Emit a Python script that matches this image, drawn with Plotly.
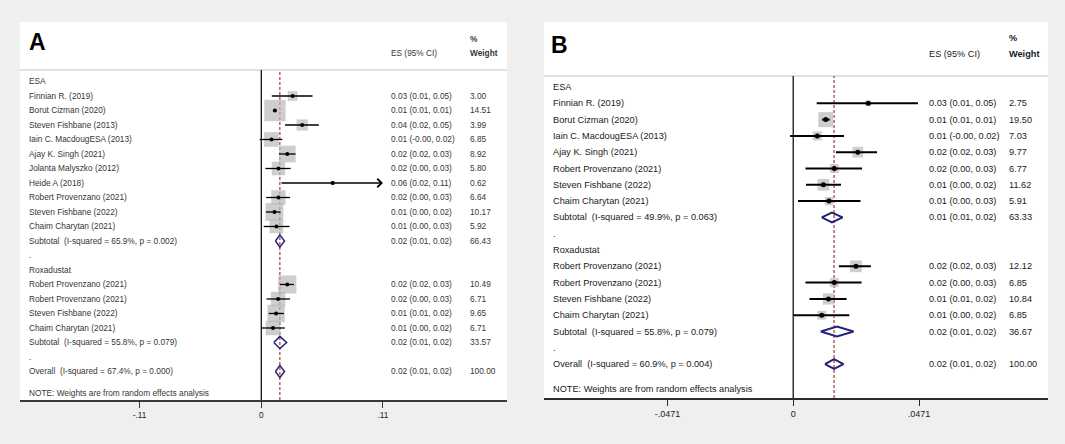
import plotly.graph_objects as go

W, H = 1065, 444

# ---------------- Panel A data ----------------
a_esa_names = ["Finnian R. (2019)", "Borut Cizman (2020)", "Steven Fishbane (2013)",
               "Iain C. MacdougESA (2013)", "Ajay K. Singh (2021)", "Jolanta Malyszko (2012)",
               "Heide A (2018)", "Robert Provenzano (2021)", "Steven Fishbane (2022)",
               "Chaim Charytan (2021)"]
a_esa_es = [0.0283, 0.0123, 0.0370, 0.0092, 0.0235, 0.0155, 0.0646, 0.0155, 0.0119, 0.0137]
a_esa_lo = [0.0095, 0.0105, 0.0215, -0.0015, 0.0160, 0.0037, 0.0183, 0.0045, 0.0043, 0.0022]
a_esa_hi = [0.0463, 0.0140, 0.0520, 0.0190, 0.0310, 0.0265, 0.1100, 0.0260, 0.0174, 0.0255]
a_esa_w = [3.00, 14.51, 3.99, 6.85, 8.92, 5.80, 0.62, 6.64, 10.17, 5.92]
a_esa_sub = (0.0168, 0.0128, 0.0210, 66.43, "Subtotal  (I-squared = 65.9%, p = 0.002)")

a_rox_names = ["Robert Provenzano (2021)", "Robert Provenzano (2021)",
               "Steven Fishbane (2022)", "Chaim Charytan (2021)"]
a_rox_es = [0.0235, 0.0152, 0.0134, 0.0106]
a_rox_lo = [0.0168, 0.0048, 0.0067, 0.0001]
a_rox_hi = [0.0295, 0.0259, 0.0205, 0.0213]
a_rox_w = [10.49, 6.71, 9.65, 6.71]
a_rox_sub = (0.0168, 0.0113, 0.0229, 33.57, "Subtotal  (I-squared = 55.8%, p = 0.079)")
a_overall = (0.0168, 0.0128, 0.0210, 100.00, "Overall  (I-squared = 67.4%, p = 0.000)")
a_ticks = [-0.11, 0, 0.11]
a_ticktext = ["-.11", "0", ".11"]

# ---------------- Panel B data ----------------
b_esa_names = ["Finnian R. (2019)", "Borut Cizman (2020)", "Iain C. MacdougESA (2013)",
               "Ajay K. Singh (2021)", "Robert Provenzano (2021)", "Steven Fishbane (2022)",
               "Chaim Charytan (2021)"]
b_esa_es = [0.0281, 0.0122, 0.0090, 0.0242, 0.0154, 0.0113, 0.0134]
b_esa_lo = [0.0088, 0.0108, -0.0012, 0.0160, 0.0046, 0.0048, 0.0018]
b_esa_hi = [0.0467, 0.0137, 0.0190, 0.0314, 0.0258, 0.0179, 0.0252]
b_esa_w = [2.75, 19.50, 7.03, 9.77, 6.77, 11.62, 5.91]
b_esa_sub = (0.0145, 0.0107, 0.0185, 63.33, "Subtotal  (I-squared = 49.9%, p = 0.063)")

b_rox_names = ["Robert Provenzano (2021)", "Robert Provenzano (2021)",
               "Steven Fishbane (2022)", "Chaim Charytan (2021)"]
b_rox_es = [0.0235, 0.0154, 0.0132, 0.0107]
b_rox_lo = [0.0171, 0.0046, 0.0061, 0.0001]
b_rox_hi = [0.0291, 0.0256, 0.0200, 0.0210]
b_rox_w = [12.12, 6.85, 10.84, 6.85]
b_rox_sub = (0.0164, 0.0103, 0.0226, 36.67, "Subtotal  (I-squared = 55.8%, p = 0.079)")
b_overall = (0.0153, 0.0119, 0.0188, 100.00, "Overall  (I-squared = 60.9%, p = 0.004)")
b_ticks = [-0.0471, 0, 0.0471]
b_ticktext = ["-.0471", "0", ".0471"]

group_names = ["ESA", "Roxadustat"]
note_text = "NOTE: Weights are from random effects analysis"

FONT = "Arial, 'Liberation Sans', sans-serif"

fig = go.Figure()
shapes = []
annotations = []


def px_x(p):
    return p / W


def px_y(p):
    return 1 - p / H


def panel(cfg):
    xa, ya = cfg["xa"], cfg["ya"]
    groups = cfg["groups"]
    fs, tcol = cfg["fs"], cfg["tcol"]
    rows_study, es_all, lo_all, hi_all, w_all = [], [], [], [], []
    text_rows = []
    diamonds = []
    r = 0
    for gi, (gname, names, es, lo, hi, w, sub) in enumerate(groups):
        text_rows.append((r, gname, "", ""))
        r += 1
        for n, e, l, h, ww in zip(names, es, lo, hi, w):
            rows_study.append(r)
            es_all.append(e); lo_all.append(l); hi_all.append(h); w_all.append(ww)
            text_rows.append((r, n, f"{e:.2f} ({l:.2f}, {h:.2f})", f"{ww:.2f}"))
            r += 1
        se, sl, sh, sw, slabel = sub
        diamonds.append((r, se, sl, sh))
        text_rows.append((r, slabel, f"{se:.2f} ({sl:.2f}, {sh:.2f})", f"{sw:.2f}"))
        r += 1
        text_rows.append((r, ".", "", ""))
        r += 1
    oe, ol, oh, ow, olabel = cfg["overall"]
    diamonds.append((r, oe, ol, oh))
    text_rows.append((r, olabel, f"{oe:.2f} ({ol:.2f}, {oh:.2f})", f"{ow:.2f}"))
    note_row = r + 1.5

    ylo, yhi = cfg["yrange"]
    # zero line and overall-effect dashed line (drawn first, beneath the markers)
    fig.add_trace(go.Scatter(x=[0, 0], y=[ylo, yhi], mode="lines", xaxis=xa, yaxis=ya,
                             line=dict(color="black", width=1.2), hoverinfo="skip",
                             showlegend=False, cliponaxis=False))
    fig.add_trace(go.Scatter(x=[oe, oe], y=[ylo, yhi], mode="lines", xaxis=xa, yaxis=ya,
                             line=dict(color="#a8383a", width=1.2, dash="3px,2px"),
                             hoverinfo="skip", showlegend=False, cliponaxis=False))

    xclip = max(cfg["ticks"])
    fig.add_trace(go.Scatter(
        x=es_all, y=rows_study, mode="markers", xaxis=xa, yaxis=ya,
        marker=dict(symbol="square", color="#b9b9b9",
                    size=[cfg["sq"] * (ww ** 0.5) for ww in w_all], line=dict(width=0)),
        hoverinfo="skip", showlegend=False))
    plus = [0 if h >= xclip else h - e for e, h in zip(es_all, hi_all)]
    minus = [e - l for e, l in zip(es_all, lo_all)]
    fig.add_trace(go.Scatter(
        x=es_all, y=rows_study, mode="markers", xaxis=xa, yaxis=ya,
        marker=dict(symbol="circle", color="black", size=cfg["dot"]),
        error_x=dict(type="data", symmetric=False, array=plus, arrayminus=minus,
                     thickness=cfg["ciw"], width=0, color="black"),
        hoverinfo="skip", showlegend=False))
    for e, h, rr in zip(es_all, hi_all, rows_study):
        if h >= xclip:
            annotations.append(dict(x=xclip, y=rr, ax=e, ay=rr, xref=xa, yref=ya,
                                    axref=xa, ayref=ya, text="", showarrow=True,
                                    arrowhead=4, arrowsize=1.3, arrowwidth=cfg["ciw"],
                                    arrowcolor="black", standoff=0))
    hh = cfg["dh"]
    for rr, e, l, h in diamonds:
        fig.add_trace(go.Scatter(
            x=[l, e, h, e, l], y=[rr, rr - hh, rr, rr + hh, rr], mode="lines",
            xaxis=xa, yaxis=ya, line=dict(color="#23237a", width=cfg["dw"]),
            hoverinfo="skip", showlegend=False))

    for rr, lab, est, wt in text_rows:
        annotations.append(dict(x=px_x(cfg["lab_x"]), y=rr, xref="paper", yref=ya,
                                text=lab, showarrow=False, xanchor="left", yanchor="middle",
                                font=dict(family=FONT, size=fs, color=tcol)))
        if est:
            annotations.append(dict(x=px_x(cfg["es_x"]), y=rr, xref="paper", yref=ya,
                                    text=est, showarrow=False, xanchor="left", yanchor="middle",
                                    font=dict(family=FONT, size=fs, color=tcol)))
            annotations.append(dict(x=px_x(cfg["w_x"]), y=rr, xref="paper", yref=ya,
                                    text=wt, showarrow=False, xanchor="left", yanchor="middle",
                                    font=dict(family=FONT, size=fs, color=tcol)))
    annotations.append(dict(x=px_x(cfg["lab_x"]), y=note_row, xref="paper", yref=ya,
                            text=note_text, showarrow=False, xanchor="left", yanchor="middle",
                            font=dict(family=FONT, size=fs, color=tcol)))
    annotations.append(dict(x=px_x(cfg["title_x"]), y=px_y(cfg["title_y"]), xref="paper",
                            yref="paper", text=f"<b>{cfg['title']}</b>", showarrow=False,
                            xanchor="left", yanchor="middle",
                            font=dict(family=FONT, size=23, color="black")))
    annotations.append(dict(x=px_x(cfg["es_x"]), y=px_y(cfg["hdr2_y"]), xref="paper",
                            yref="paper", text="ES (95% CI)", showarrow=False,
                            xanchor="left", yanchor="middle",
                            font=dict(family=FONT, size=fs, color=tcol)))
    annotations.append(dict(x=px_x(cfg["w_x"]), y=px_y(cfg["hdr1_y"]), xref="paper",
                            yref="paper", text="<b>%</b>", showarrow=False,
                            xanchor="left", yanchor="middle",
                            font=dict(family=FONT, size=fs, color=tcol)))
    annotations.append(dict(x=px_x(cfg["w_x"]), y=px_y(cfg["hdr2_y"]), xref="paper",
                            yref="paper", text="<b>Weight</b>", showarrow=False,
                            xanchor="left", yanchor="middle",
                            font=dict(family=FONT, size=fs, color=tcol)))
    L, R, T, S, B = cfg["box"]
    shapes.append(dict(type="rect", xref="paper", yref="paper", x0=px_x(L), x1=px_x(R),
                       y0=px_y(B), y1=px_y(T), fillcolor="white", line=dict(width=0),
                       layer="below"))
    shapes.append(dict(type="line", xref="paper", yref="paper", x0=px_x(L), x1=px_x(R),
                       y0=px_y(S), y1=px_y(S), line=dict(color="#d6d6d6", width=1.5),
                       layer="below"))


cfgA = dict(xa="x", ya="y", fs=8.3, tcol="#363636", sq=5.6, dot=4, ciw=1.3, dh=0.42, dw=1.5,
            groups=[(group_names[0], a_esa_names, a_esa_es, a_esa_lo, a_esa_hi, a_esa_w, a_esa_sub),
                    (group_names[1], a_rox_names, a_rox_es, a_rox_lo, a_rox_hi, a_rox_w, a_rox_sub)],
            overall=a_overall, ticks=a_ticks, lab_x=27, es_x=389, w_x=467.5,
            title="A", title_x=27, title_y=42, hdr1_y=39, hdr2_y=53,
            box=(20, 507, 22, 70, 400), yrange=(21.966, -0.793))
cfgB = dict(xa="x2", ya="y2", fs=9.2, tcol="#1a1a22", sq=3.4, dot=5, ciw=2, dh=0.3, dw=2,
            groups=[(group_names[0], b_esa_names, b_esa_es, b_esa_lo, b_esa_hi, b_esa_w, b_esa_sub),
                    (group_names[1], b_rox_names, b_rox_es, b_rox_lo, b_rox_hi, b_rox_w, b_rox_sub)],
            overall=b_overall, ticks=b_ticks, lab_x=551, es_x=926.5, w_x=1006.5,
            title="B", title_x=549, title_y=45, hdr1_y=38, hdr2_y=54,
            box=(544, 1048, 22, 76, 398), yrange=(19.08, -0.675))

panel(cfgA)
panel(cfgB)

axis_common = dict(showgrid=False, zeroline=False, showline=True, ticks="outside",
                   ticklen=6, tickwidth=1.2, fixedrange=True)
fig.update_layout(
    width=W, height=H, margin=dict(l=0, r=0, t=0, b=0),
    paper_bgcolor="#efefef", plot_bgcolor="rgba(0,0,0,0)",
    shapes=shapes, annotations=annotations, showlegend=False,
    xaxis=dict(domain=[px_x(20), px_x(507)], range=[-0.2181, 0.2221], anchor="y",
               tickvals=a_ticks, ticktext=a_ticktext, linecolor="#3a3a3a", linewidth=2,
               tickcolor="#3a3a3a", tickfont=dict(family=FONT, size=8.3, color="#222"),
               **axis_common),
    yaxis=dict(domain=[px_y(400), px_y(70)], range=list(cfgA["yrange"]), visible=False,
               fixedrange=True, anchor="x"),
    xaxis2=dict(domain=[px_x(544), px_x(1048)], range=[-0.0933, 0.0954], anchor="y2",
                tickvals=b_ticks, ticktext=b_ticktext, linecolor="#2a2a2a", linewidth=2,
                tickcolor="#2a2a2a", tickfont=dict(family=FONT, size=9, color="#222"),
                **axis_common),
    yaxis2=dict(domain=[px_y(398), px_y(76)], range=list(cfgB["yrange"]), visible=False,
                fixedrange=True, anchor="x2"),
)

fig.write_html("out.html", config={"displayModeBar": False},
               post_script="document.body.style.margin='0';document.body.style.background='#efefef';")
